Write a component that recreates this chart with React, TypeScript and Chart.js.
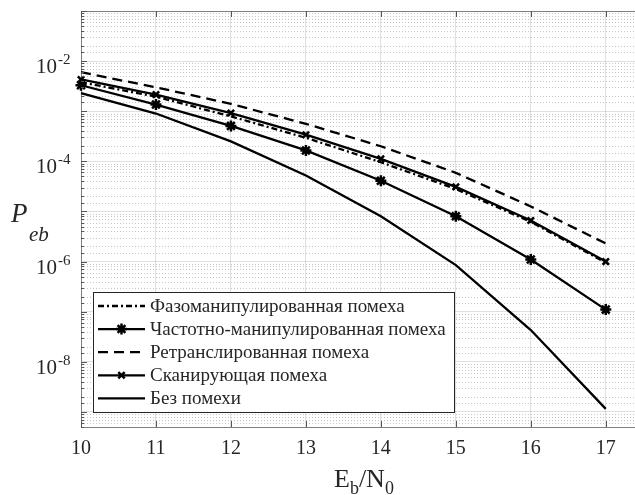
import React, { useEffect, useRef } from 'react';
import { Chart, registerables } from 'chart.js';

Chart.register(...registerables);

// Eb/N0, dB
const snr = [10, 11, 12, 13, 14, 15, 16, 17];

// Bit error probability for each kind of jamming
const phaseShiftJam = [3.8e-3, 1.95e-3, 7.9e-4, 2.95e-4, 9.6e-5, 2.8e-5, 6.2e-6, 9.5e-7];
const freqShiftJam = [3.3e-3, 1.36e-3, 5.1e-4, 1.65e-4, 4.1e-5, 8.0e-6, 1.1e-6, 1.1e-7];
const repeaterJam = [6.0e-3, 3.0e-3, 1.4e-3, 5.6e-4, 2.0e-4, 5.9e-5, 1.26e-5, 2.3e-6];
const sweepJam = [4.3e-3, 2.15e-3, 9.2e-4, 3.4e-4, 1.12e-4, 3.1e-5, 6.6e-6, 1.0e-6];
const noJam = [2.3e-3, 9.0e-4, 2.5e-4, 5.2e-5, 8.0e-6, 8.5e-7, 4.3e-8, 1.15e-9];

const seriesNames = [
  'Фазоманипулированная помеха',
  'Частотно-манипулированная помеха',
  'Ретранслированная помеха',
  'Сканирующая помеха',
  'Без помехи',
];

const xTicks = [10, 11, 12, 13, 14, 15, 16, 17];
const yLabelExponents = [-2, -4, -6, -8];
const xMin = 10;
const xMax = 17.39;
const yMin = 5e-10;
const yMax = 1e-1;

const SERIF = '"Liberation Serif", "Times New Roman", serif';
const TEXT = '#262626';

const isDecade = (v: number) => {
  const l = Math.log10(v);
  return Math.abs(l - Math.round(l)) < 1e-6;
};

// Draws a marker glyph (asterisk or diagonal cross) centred on (x, y)
function drawMarker(ctx: CanvasRenderingContext2D, style: string, x: number, y: number, r: number) {
  ctx.beginPath();
  const d = r * Math.SQRT1_2;
  ctx.moveTo(x - d, y - d);
  ctx.lineTo(x + d, y + d);
  ctx.moveTo(x - d, y + d);
  ctx.lineTo(x + d, y - d);
  if (style === 'star') {
    ctx.moveTo(x, y - r);
    ctx.lineTo(x, y + r);
    ctx.moveTo(x - r, y);
    ctx.lineTo(x + r, y);
  }
  ctx.stroke();
}

const decorations = {
  id: 'decorations',
  beforeDatasetsDraw(chart: any) {
    const { ctx, chartArea: a, scales } = chart;
    const y = scales.y;
    ctx.save();
    // dotted minor grid between decades
    ctx.strokeStyle = 'rgba(0,0,0,0.22)';
    ctx.lineWidth = 1;
    ctx.setLineDash([1, 2]);
    for (const t of y.ticks) {
      if (isDecade(t.value)) continue;
      const py = Math.round(y.getPixelForValue(t.value)) + 0.5;
      if (py >= a.bottom - 1 || py <= a.top + 1) continue;
      ctx.beginPath();
      ctx.moveTo(a.left, py);
      ctx.lineTo(a.right, py);
      ctx.stroke();
    }
    ctx.restore();
  },
  afterDatasetsDraw(chart: any) {
    const { ctx, chartArea: a, scales } = chart;
    const x = scales.x;
    const y = scales.y;
    ctx.save();
    // top edge of the box
    ctx.strokeStyle = '#808080';
    ctx.lineWidth = 1;
    ctx.beginPath();
    ctx.moveTo(a.left, Math.round(a.top) + 0.5);
    ctx.lineTo(a.right, Math.round(a.top) + 0.5);
    ctx.stroke();
    // inward tick marks
    ctx.strokeStyle = '#555';
    for (const v of xTicks) {
      const px = Math.round(x.getPixelForValue(v)) + 0.5;
      ctx.beginPath();
      ctx.moveTo(px, a.bottom);
      ctx.lineTo(px, a.bottom - 6);
      ctx.moveTo(px, a.top);
      ctx.lineTo(px, a.top + 6);
      ctx.stroke();
    }
    for (const t of y.ticks) {
      const py = Math.round(y.getPixelForValue(t.value)) + 0.5;
      const len = isDecade(t.value) ? 6 : 3;
      ctx.beginPath();
      ctx.moveTo(a.left, py);
      ctx.lineTo(a.left + len, py);
      ctx.stroke();
    }
    ctx.restore();
  },
  afterDraw(chart: any) {
    const { ctx, scales } = chart;
    const y = scales.y;
    ctx.save();
    ctx.fillStyle = TEXT;

    // y tick labels as powers of ten
    for (const e of yLabelExponents) {
      const py = y.getPixelForValue(Math.pow(10, e));
      ctx.font = `21px ${SERIF}`;
      ctx.textAlign = 'right';
      ctx.textBaseline = 'alphabetic';
      ctx.fillText('10', 57, py + 12);
      ctx.font = `15px ${SERIF}`;
      ctx.textAlign = 'left';
      ctx.fillText(String(e), 58, py + 3);
    }

    // y axis title P_eb
    ctx.font = `italic 27px ${SERIF}`;
    ctx.textAlign = 'left';
    ctx.fillText('P', 11, 222);
    ctx.font = `italic 21px ${SERIF}`;
    ctx.fillText('eb', 29, 241);

    // x axis title Eb/N0
    let cx = 334;
    const base = 487;
    const parts: [string, boolean][] = [['E', false], ['b', true], ['/N', false], ['0', true]];
    for (const [s, sub] of parts) {
      ctx.font = sub ? `18px ${SERIF}` : `26px ${SERIF}`;
      ctx.fillText(s, cx, sub ? base + 7 : base);
      cx += ctx.measureText(s).width;
    }

    // legend
    const lx = 93.5;
    const ly = 292.5;
    ctx.fillStyle = '#fff';
    ctx.fillRect(lx, ly, 361, 120);
    ctx.strokeStyle = '#262626';
    ctx.lineWidth = 1;
    ctx.setLineDash([]);
    ctx.strokeRect(lx, ly, 361, 120);
    chart.data.datasets.forEach((ds: any, i: number) => {
      const ry = 306 + i * 23.1;
      ctx.strokeStyle = '#000';
      ctx.lineWidth = ds.borderWidth;
      ctx.setLineDash(ds.borderDash || []);
      ctx.beginPath();
      ctx.moveTo(98, ry);
      ctx.lineTo(145, ry);
      ctx.stroke();
      ctx.setLineDash([]);
      if (ds.pointRadius > 0) {
        ctx.lineWidth = ds.pointBorderWidth;
        drawMarker(ctx, ds.pointStyle, 121.5, ry, ds.pointRadius);
      }
      ctx.fillStyle = TEXT;
      ctx.font = `19px ${SERIF}`;
      ctx.textAlign = 'left';
      ctx.textBaseline = 'middle';
      ctx.fillText(seriesNames[i], 150, ry + 1);
    });
    ctx.restore();
  },
};

export default function App() {
  const ref = useRef<HTMLCanvasElement | null>(null);

  useEffect(() => {
    if (!ref.current) return;
    const mk = (
      data: number[],
      dash: number[],
      pointStyle: string | false,
      radius: number,
    ) => ({
      data: snr.map((v, i) => ({ x: v, y: data[i] })),
      borderColor: '#000',
      backgroundColor: '#000',
      borderWidth: 2.3,
      borderDash: dash,
      pointStyle: pointStyle || 'circle',
      pointRadius: pointStyle ? radius : 0,
      pointBorderWidth: 2.5,
      pointBorderColor: '#000',
      pointBackgroundColor: '#000',
      tension: 0,
      clip: 8,
    });

    const chart = new Chart(ref.current, {
      type: 'line',
      data: {
        datasets: [
          mk(phaseShiftJam, [6, 3, 2, 3], false, 0),
          mk(freqShiftJam, [], 'star', 5.5),
          mk(repeaterJam, [10, 6], false, 0),
          mk(sweepJam, [], 'crossRot', 4.5),
          mk(noJam, [], false, 0),
        ] as any,
      },
      options: {
        animation: false,
        responsive: false,
        layout: { autoPadding: false, padding: { top: 11, right: 0, left: 0, bottom: 0 } },
        plugins: { legend: { display: false }, tooltip: { enabled: false } },
        scales: {
          x: {
            type: 'linear',
            min: xMin,
            max: xMax,
            afterBuildTicks: (s: any) => {
              s.ticks = xTicks.map((v) => ({ value: v }));
            },
            afterFit: (s: any) => {
              s.height = 68;
              s.paddingLeft = 0;
              s.paddingRight = 0;
            },
            grid: { color: 'rgba(0,0,0,0.12)', drawTicks: false },
            border: { color: '#808080', width: 1 },
            ticks: {
              font: { family: SERIF, size: 20 },
              color: TEXT,
              padding: 10,
              maxRotation: 0,
              autoSkip: false,
            },
          },
          y: {
            type: 'logarithmic',
            min: yMin,
            max: yMax,
            afterFit: (s: any) => {
              s.width = 81;
              s.paddingTop = 0;
              s.paddingBottom = 0;
            },
            grid: {
              drawTicks: false,
              color: (c: any) =>
                c.tick && isDecade(c.tick.value) ? 'rgba(0,0,0,0.12)' : 'rgba(0,0,0,0)',
            },
            border: { color: '#808080', width: 1 },
            ticks: { display: false, autoSkip: false },
          },
        },
      } as any,
      plugins: [decorations],
    });
    return () => chart.destroy();
  }, []);

  return (
    <div style={{ position: 'absolute', left: 0, top: 0, width: 635, height: 495, background: '#fff' }}>
      <canvas ref={ref} width={635} height={495} style={{ display: 'block' }} />
    </div>
  );
}
